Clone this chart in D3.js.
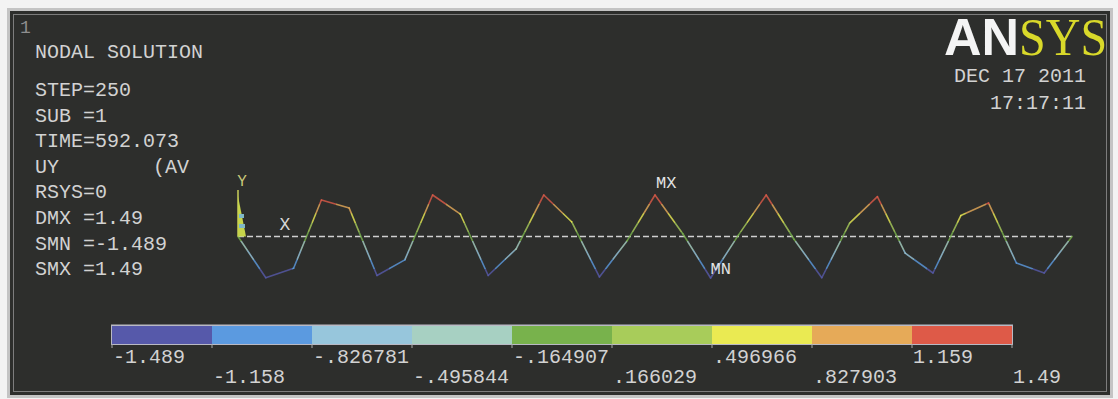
<!DOCTYPE html>
<html>
<head>
<meta charset="utf-8">
<script src="https://cdn.jsdelivr.net/npm/d3@7"></script>
<style>
  html, body { margin: 0; padding: 0; background: #f3f3f3; }
  svg { display: block; }
  text { font-family: "Liberation Mono", "DejaVu Sans Mono", monospace; }
</style>
</head>
<body>
<svg id="chart" width="1118" height="399"></svg>
<script>
// ---------------- data ----------------
const nodeX = [0,1,2,3,4,5,6,7,8,9,10,11,12,13,14,15,16,17,18,19,20,21,22,23,24,25,26,27,28,29,30];
const nodeUY = [0,-1.48,-1.14,1.31,1.02,-1.40,-0.84,1.49,0.80,-1.40,-0.45,1.49,0.53,-1.45,-0.15,1.49,0.10,-1.489,0.05,1.49,-0.10,-1.48,0.48,1.43,-0.60,-1.31,0.75,1.20,-0.95,-1.31,0];
const contourLevels = [-1.489,-1.158,-0.826781,-0.495844,-0.164907,0.166029,0.496966,0.827903,1.159,1.49];
const contourLabels = ["-1.489","-1.158","-.826781","-.495844","-.164907",".166029",".496966",".827903","1.159","1.49"];
const bandColors = ["#5659aa","#5b9ae0","#97c6dc","#a7d0c2","#78b24c","#a8cc5a","#eaea52","#e6aa58","#de5a48"];
const infoLines = ["NODAL SOLUTION","","STEP=250","SUB =1","TIME=592.073","UY","RSYS=0","DMX =1.49","SMN =-1.489","SMX =1.49"];
const infoSuffix = "(AV";
const windowNumber = "1";
const dateLines = ["DEC 17 2011","17:17:11"];
const logoParts = ["AN","SYS"];
const maxLabel = "MX", minLabel = "MN";

// ---------------- drawing ----------------
const svg = d3.select("#chart");

// frame
svg.append("rect").attr("x",7).attr("y",8).attr("width",1106).attr("height",390).attr("fill","#c4c4c4");
svg.append("rect").attr("x",10).attr("y",11).attr("width",1100).attr("height",384).attr("fill","#2d2e2c");
svg.append("rect").attr("x",13.5).attr("y",14.5).attr("width",1093).attr("height",377)
  .attr("fill","none").attr("stroke","#7d7d7d").attr("stroke-width",1);

const txtColor = "#d2d2d2";

svg.append("text").attr("x",20).attr("y",33).attr("font-size",18).attr("fill","#8f8f8f").text(windowNumber);

// info block
const info = svg.append("g");
infoLines.forEach((s,i) => {
  if (!s) return;
  const yb = i === 0 ? 58 : 96 + (i-2)*25.6;
  info.append("text").attr("x",35).attr("y",yb).attr("font-size",20).attr("fill",txtColor).text(s);
});
info.append("text").attr("x",153).attr("y",96+3*25.6).attr("font-size",20).attr("fill",txtColor).text(infoSuffix);

// date / time
dateLines.forEach((s,i) => {
  svg.append("text").attr("x",1086).attr("y",82 + i*27).attr("text-anchor","end")
    .attr("font-size",20).attr("fill",txtColor).text(s);
});

// logo
const logo = svg.append("text").attr("x",944).attr("y",55);
logo.append("tspan").attr("font-family","Liberation Sans, Arial, sans-serif").attr("font-weight","bold")
  .attr("font-size",52).attr("fill","#f4f4f4").text(logoParts[0]);
logo.append("tspan").attr("font-family","Liberation Serif, Times New Roman, serif")
  .attr("font-size",53).attr("fill","#d9d92a").attr("textLength",88).attr("lengthAdjust","spacingAndGlyphs")
  .text(logoParts[1]);

// scales
const x = d3.scaleLinear().domain([0,30]).range([238,1072]);
const y = d3.scaleLinear().domain([-1.5,1.5]).range([278.3,194.7]);
const color = d3.scaleThreshold().domain(contourLevels.slice(1,-1)).range(bandColors);

// dashed undeformed shape
svg.append("line").attr("x1",x(0)).attr("x2",x(30)).attr("y1",y(0)).attr("y2",y(0))
  .attr("stroke","#d0d0d0").attr("stroke-width",1.6).attr("stroke-dasharray","6,3");

// deformed contour line segments
const defs = svg.append("defs");
const inner = contourLevels.slice(1,-1);
for (let i = 0; i < nodeX.length-1; i++) {
  const v0 = nodeUY[i], v1 = nodeUY[i+1];
  const x0 = x(nodeX[i]), y0 = y(v0), x1 = x(nodeX[i+1]), y1 = y(v1);
  const gid = "seg"+i;
  const g = defs.append("linearGradient").attr("id",gid).attr("gradientUnits","userSpaceOnUse")
    .attr("x1",x0).attr("y1",y0).attr("x2",x1).attr("y2",y1);
  g.append("stop").attr("offset",0).attr("stop-color",color(v0));
  const crossings = inner.filter(b => (b - v0) * (b - v1) < 0)
    .map(b => ({t: (b - v0)/(v1 - v0), b}))
    .sort((a,b) => a.t - b.t);
  crossings.forEach(c => {
    const before = color(c.b + (v1 > v0 ? -1e-6 : 1e-6));
    const after = color(c.b + (v1 > v0 ? 1e-6 : -1e-6));
    g.append("stop").attr("offset",c.t).attr("stop-color",before);
    g.append("stop").attr("offset",c.t).attr("stop-color",after);
  });
  g.append("stop").attr("offset",1).attr("stop-color",color(v1));
  svg.append("line").attr("x1",x0).attr("y1",y0).attr("x2",x1).attr("y2",y1)
    .attr("stroke",`url(#${gid})`).attr("stroke-width",1.6).attr("stroke-opacity",0.8)
    .attr("stroke-linecap","round");
}

// triad / constraint symbol at origin
const ox = x(0), oy = y(0);
svg.append("line").attr("x1",ox).attr("x2",ox).attr("y1",oy).attr("y2",190)
  .attr("stroke","#c8cf5a").attr("stroke-width",1.5);
svg.append("path").attr("d",`M${ox},${oy} L${ox},${196} L${ox+8},${oy} Z`).attr("fill","#c6d44a");
svg.append("rect").attr("x",ox+1).attr("y",214).attr("width",5).attr("height",4).attr("fill","#7fb8c8");
svg.append("rect").attr("x",ox+1).attr("y",224).attr("width",6).attr("height",4).attr("fill","#7fb8c8");
svg.append("text").attr("x",ox+4).attr("y",186).attr("text-anchor","middle").attr("font-size",16)
  .attr("fill","#c8c87a").text("Y");
svg.append("text").attr("x",285).attr("y",230).attr("text-anchor","middle").attr("font-size",18)
  .attr("fill","#d8d8d8").text("X");

// MX / MN labels
const iMin = nodeUY.indexOf(d3.min(nodeUY));
svg.append("text").attr("x",x(15)+1).attr("y",y(nodeUY[15])-7).attr("font-size",17)
  .attr("fill","#e4e4e4").text(maxLabel);
svg.append("text").attr("x",x(iMin)).attr("y",y(nodeUY[iMin])-4).attr("font-size",17)
  .attr("fill","#e4e4e4").text(minLabel);

// colour bar
const cb = d3.scaleLinear().domain([0,9]).range([112,1012]);
const cbTop = 326, cbH = 18;
svg.append("rect").attr("x",cb(0)-1).attr("y",cbTop-1.5).attr("width",cb(9)-cb(0)+2).attr("height",cbH+2.5)
  .attr("fill","#b9b9c4");
bandColors.forEach((c,i) => {
  svg.append("rect").attr("x",cb(i)).attr("y",cbTop).attr("width",cb(i+1)-cb(i)).attr("height",cbH).attr("fill",c);
});
contourLabels.forEach((s,i) => {
  svg.append("line").attr("x1",cb(i)).attr("x2",cb(i)).attr("y1",cbTop+cbH).attr("y2",cbTop+cbH+4)
    .attr("stroke","#aaaaaa").attr("stroke-width",1);
  svg.append("text").attr("x",cb(i)+1).attr("y",i%2===0 ? 363 : 383)
    .attr("font-size",20).attr("fill",txtColor).text(s);
});
</script>
</body>
</html>
